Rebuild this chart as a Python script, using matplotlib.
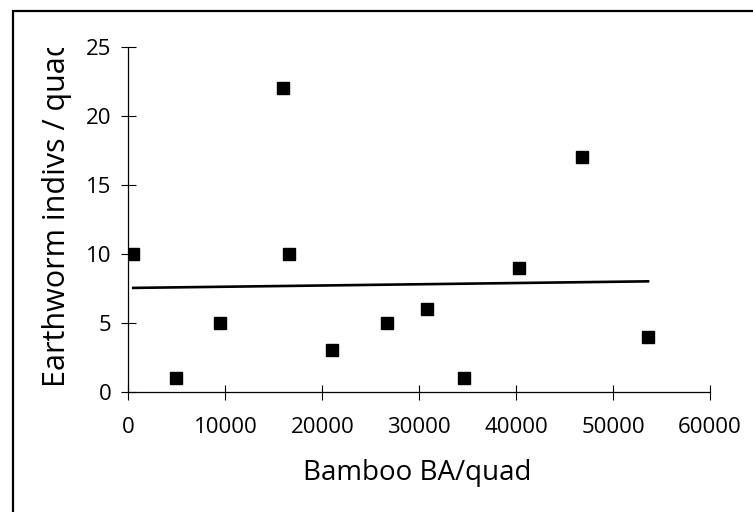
import numpy as np
import matplotlib
matplotlib.use("Agg")
import matplotlib.pyplot as plt
from matplotlib.patches import Rectangle
from matplotlib.transforms import Bbox, TransformedBbox

plt.rcParams['font.family'] = ['Open Sans', 'DejaVu Sans']

# bamboo basal area per quadrat vs earthworm count
bamboo_ba = [500, 4900, 9500, 15900, 16600, 21000, 26700, 30800, 34600, 40300, 46800, 53600]
worms = [10, 1, 5, 22, 10, 3, 5, 6, 1, 9, 17, 4]

x_ticks = [0, 10000, 20000, 30000, 40000, 50000, 60000]
y_ticks = [0, 5, 10, 15, 20, 25]

fig = plt.figure(figsize=(7.53, 5.12), dpi=100)
ax = fig.add_axes([0.1705, 0.235, 0.7725, 0.673])

ax.plot(bamboo_ba, worms, 's', color='black', markersize=8.5, zorder=3)

# linear trendline over the data range
slope, icpt = np.polyfit(bamboo_ba, worms, 1)
xs = np.array([min(bamboo_ba), max(bamboo_ba)])
ax.plot(xs, slope * xs + icpt, color='black', linewidth=1.9)

ax.set_xlim(0, 60000)
ax.set_ylim(0, 25)
ax.set_xticks(x_ticks)
ax.set_yticks(y_ticks)
ax.tick_params(direction='inout', length=10.8, width=0.8, labelsize=16)
ax.tick_params(axis='y', pad=7)
ax.tick_params(axis='x', pad=13)
for s in ['top', 'right']:
    ax.spines[s].set_visible(False)
for s in ['left', 'bottom']:
    ax.spines[s].set_linewidth(0.9)

ax.set_xlabel('Bamboo BA/quad', fontsize=20)
ax.xaxis.set_label_coords(0.497, -0.195)
ylab = ax.set_ylabel('Earthworm indivs / quad', fontsize=22)
ax.yaxis.set_label_coords(-0.097, 0.52)
# label gets cut at the top of the plot area, like the original
ylab.set_clip_box(TransformedBbox(Bbox([[0, 0], [1, 1 - 48 / 512]]), fig.transFigure))
ylab.set_clip_on(True)

# outer border, runs off the right and bottom edges
border = Rectangle((13 / 753, -0.1), 1.2, 1.1 - 11 / 512, transform=fig.transFigure,
                   fill=False, edgecolor='black', linewidth=1.6, clip_on=False)
fig.patches.append(border)

fig.savefig('out.png', dpi=100)
